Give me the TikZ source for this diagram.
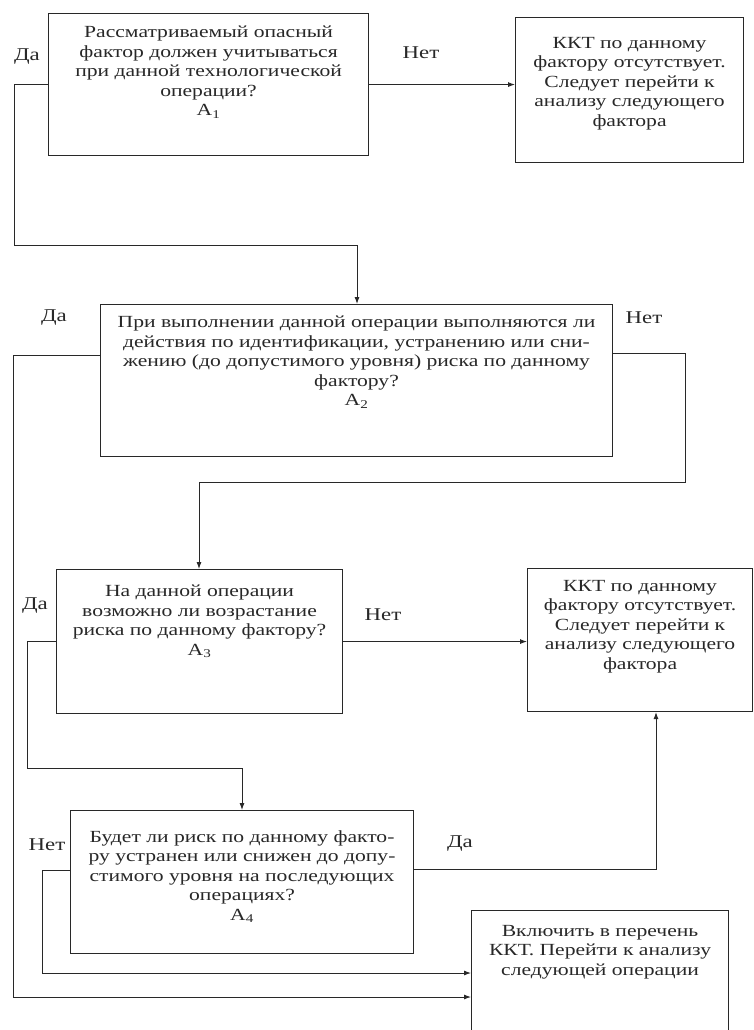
\documentclass[tikz,border=0pt]{standalone}
\usepackage{fontspec}
\setmainfont[FakeStretch=1.27]{Liberation Serif}
\usetikzlibrary{arrows.meta,positioning}
\definecolor{ink}{RGB}{40,40,40}

\begin{document}
\begin{tikzpicture}[x=1pt,y=1pt,
  qbox/.style={draw=ink,line width=1.1pt,anchor=north west,inner sep=0pt},
  qtext/.style={text=ink,font=\fontsize{17}{19.5}\selectfont,align=center,inner sep=0pt},
  lbl/.style={text=ink,font=\fontsize{18}{20}\selectfont,inner sep=0pt},
  arr/.style={draw=ink,line width=0.9pt,-{Latex[length=7pt,width=5pt]}}]
  \useasboundingbox (0,0) rectangle (754,-1030);
  \clip (0,0) rectangle (754,-1030);
  \fill[white] (0,0) rectangle (754,-1030);

  % boxes
  \node[qbox,minimum width=320pt,minimum height=142pt] (a1) at (48,-13) {};
  \node[qbox,minimum width=228pt,minimum height=145pt] (k1) at (515,-17) {};
  \node[qbox,minimum width=512pt,minimum height=152pt] (a2) at (100,-304) {};
  \node[qbox,minimum width=286pt,minimum height=144pt] (a3) at (56,-569) {};
  \node[qbox,minimum width=225pt,minimum height=143pt] (k2) at (527,-568) {};
  \node[qbox,minimum width=343pt,minimum height=143pt] (a4) at (70,-810) {};
  \node[qbox,minimum width=257pt,minimum height=140pt] (k3) at (471,-910) {};

  % texts
  \node[qtext,below=13pt of a1.north] (t1) {Рассматриваемый опасный\\фактор должен учитываться\\при данной технологической\\операции?\\A\textsubscript{1}};
  \node[qtext,below=20pt of k1.north] (tk1) {ККТ по данному\\фактору отсутствует.\\Следует перейти к\\анализу следующего\\фактора};
  \node[qtext,below=12pt of a2.north] (t2) {При выполнении данной операции выполняются ли\\действия по идентификации, устранению или сни-\\жению (до допустимого уровня) риска по данному\\фактору?\\A\textsubscript{2}};
  \node[qtext,below=16pt of a3.north] (t3) {На данной операции\\возможно ли возрастание\\риска по данному фактору?\\A\textsubscript{3}};
  \node[qtext,below=12pt of k2.north] (tk2) {ККТ по данному\\фактору отсутствует.\\Следует перейти к\\анализу следующего\\фактора};
  \node[qtext,below=20pt of a4.north] (t4) {Будет ли риск по данному факто-\\ру устранен или снижен до допу-\\стимого уровня на последующих\\операциях?\\A\textsubscript{4}};
  \node[qtext,below=15pt of k3.north] (tk3) {Включить в перечень\\ККТ. Перейти к анализу\\следующей операции};

  % labels
  \node[lbl] (da1) at (27,-57) {Да};
  \node[lbl] (net1) at (421,-53) {Нет};
  \node[lbl] (da2) at (54,-318) {Да};
  \node[lbl] (net2) at (644,-318) {Нет};
  \node[lbl] (da3) at (35,-606) {Да};
  \node[lbl] (net3) at (383,-615) {Нет};
  \node[lbl] (net4) at (47,-845) {Нет};
  \node[lbl] (da4) at (460,-844) {Да};

  % turning points
  \coordinate (p1) at (14,-245);
  \coordinate (p2) at (357,-245);
  \coordinate (p3) at (13,-355);
  \coordinate (p4) at (13,-997);
  \coordinate (p5) at (685,-353);
  \coordinate (p6) at (685,-482);
  \coordinate (p7) at (199,-482);
  \coordinate (p8) at (27,-768);
  \coordinate (p9) at (242,-768);
  \coordinate (p10) at (656,-869);
  \coordinate (p11) at (42,-870);
  \coordinate (p12) at (42,-973);

  % connectors
  \draw[arr] (a1.east) -- (a1.east -| k1.west);
  \draw[arr] (a1.west) -| (p1) -- (p2) -- (p2 |- a2.north);
  \draw[arr] (p3 -| a2.west) -- (p3) -- (p4) -- (p4 -| k3.west);
  \draw[arr] (p5 -| a2.east) -- (p5) -- (p6) -- (p7) -- (p7 |- a3.north);
  \draw[arr] (a3.east) -- (a3.east -| k2.west);
  \draw[arr] (a3.west) -| (p8) -- (p9) -- (p9 |- a4.north);
  \draw[arr] (p10 -| a4.east) -- (p10) -- (p10 |- k2.south);
  \draw[arr] (p11 -| a4.west) -- (p11) -- (p12) -- (p12 -| k3.west);
\end{tikzpicture}
\end{document}
